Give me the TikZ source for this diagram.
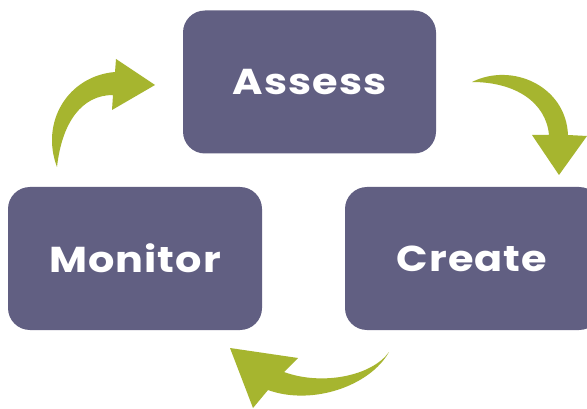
\documentclass[tikz,border=0pt]{standalone}
\usepackage{fontspec}
\setmainfont{Poppins}
\newfontfamily\labelfont{Poppins}[UprightFont=* Bold, FakeStretch=1.15, LetterSpace=3]
\definecolor{boxcol}{HTML}{615F82}
\definecolor{arrowcol}{HTML}{A6B52F}
\begin{document}
\begin{tikzpicture}[x=1pt,y=-1pt,
  stagebox/.style={fill=boxcol, rounded corners=22pt, inner sep=0pt,
    text=white, font=\labelfont\fontsize{36}{40}\selectfont},
  cyclearrow/.style={fill=arrowcol, draw=none}]
\useasboundingbox (0,0) rectangle (587,409);
\fill[white] (0,0) rectangle (587,409);
% boxes
\node[stagebox, minimum width=253pt, minimum height=143pt] (assess) at (309.5,82) {Assess};
\node[stagebox, minimum width=254pt, minimum height=143pt] (monitor) at (135,258.5) {Monitor};
\node[stagebox, minimum width=256pt, minimum height=143pt, text width=0pt] (createbox) at (473,258.5) {};
\node[text=white, font=\labelfont\fontsize{36}{40}\selectfont, inner sep=0pt] (create) at (472,258.5) {Create};
% arrow Monitor -> Assess
\coordinate (a1tail) at (57,167);
\coordinate (a1tip) at (155,85);
\fill[cyclearrow] (a1tail) .. controls (40,122) and (68,76) .. (115,72)
  -- (116,59) -- (a1tip) -- (112,110) -- (113,95)
  .. controls (82,95) and (62,122) .. (a1tail) -- cycle;
% arrow Assess -> Create
\coordinate (a2tail) at (472,82);
\coordinate (a2tip) at (559,175);
\fill[cyclearrow] (a2tail) .. controls (512,62) and (566,86) .. (568,135)
  -- (587,136) -- (a2tip) -- (532,135) -- (549,135)
  .. controls (546,102) and (515,82) .. (a2tail) -- cycle;
% arrow Create -> Monitor
\coordinate (a3tail) at (389,352);
\coordinate (a3tip) at (230,348);
\fill[cyclearrow] (a3tail) .. controls (370,386) and (312,406) .. (268,390)
  -- (253,408) -- (a3tip) -- (298,358) -- (284,372)
  .. controls (322,386) and (372,376) .. (a3tail) -- cycle;
\end{tikzpicture}
\end{document}
